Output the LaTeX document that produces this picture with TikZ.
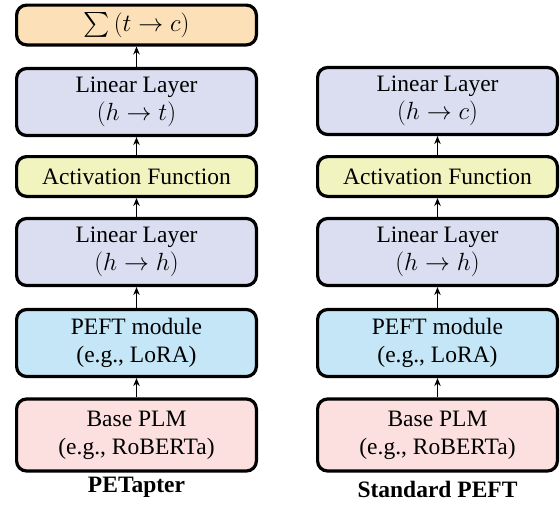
\documentclass[tikz,border=0pt]{standalone}
\usepackage{exscale}
\usepackage{fontspec}
\setmainfont{Liberation Serif}
\usetikzlibrary{arrows.meta}
\definecolor{sumfill}{RGB}{252,224,184}
\definecolor{linfill}{RGB}{218,222,240}
\definecolor{actfill}{RGB}{242,244,192}
\definecolor{peftfill}{RGB}{196,230,246}
\definecolor{basefill}{RGB}{252,224,224}
\begin{document}
\begin{tikzpicture}[x=1pt,y=-1pt,
  block/.style={draw=black, line width=3.2pt, rounded corners=10pt,
    minimum width=239.8pt, align=center, inner sep=0pt,
    font=\fontsize{23.5}{28}\selectfont\rmfamily},
  twoline/.style={block, minimum height=67pt},
  oneline/.style={block, minimum height=39.8pt},
  flow/.style={line width=1.1pt, -{Stealth[length=8pt,width=6.5pt]}},
  caption/.style={font=\fontsize{23.5}{28}\selectfont\rmfamily\bfseries}
]
\useasboundingbox (0,0) rectangle (560,506);

% PETapter column
\node[oneline, fill=sumfill] (Lsum) at (136.5,25) {$\sum\,(t \to c)$};
\node[twoline, fill=linfill] (Llin2) at (136.5,102) {Linear Layer\\$(h \to t)$};
\node[oneline, fill=actfill] (Lact) at (136.5,176.5) {Activation Function};
\node[twoline, fill=linfill] (Llin1) at (136.5,252) {Linear Layer\\$(h \to h)$};
\node[twoline, fill=peftfill] (Lpeft) at (136.5,343) {PEFT module\\(e.g., LoRA)};
\node[twoline, fill=basefill, minimum height=72pt] (Lbase) at (136.5,435) {Base PLM\\(e.g., RoBERTa)};
\node[caption] (Lcap) at (136.5,487) {PETapter};

\draw[flow] (Lbase.north) -- (Lpeft.south);
\draw[flow] (Lpeft.north) -- (Llin1.south);
\draw[flow] (Llin1.north) -- (Lact.south);
\draw[flow] (Lact.north) -- (Llin2.south);
\draw[flow] (Llin2.north) -- (Lsum.south);

% Standard PEFT column
\node[twoline, fill=linfill] (Rlin2) at (437.5,101) {Linear Layer\\$(h \to c)$};
\node[oneline, fill=actfill] (Ract) at (437.5,176.5) {Activation Function};
\node[twoline, fill=linfill] (Rlin1) at (437.5,252) {Linear Layer\\$(h \to h)$};
\node[twoline, fill=peftfill] (Rpeft) at (437.5,343) {PEFT module\\(e.g., LoRA)};
\node[twoline, fill=basefill, minimum height=72pt] (Rbase) at (437.5,435) {Base PLM\\(e.g., RoBERTa)};
\node[caption] (Rcap) at (437.5,489) {Standard PEFT};

\draw[flow] (Rbase.north) -- (Rpeft.south);
\draw[flow] (Rpeft.north) -- (Rlin1.south);
\draw[flow] (Rlin1.north) -- (Ract.south);
\draw[flow] (Ract.north) -- (Rlin2.south);
\end{tikzpicture}
\end{document}
